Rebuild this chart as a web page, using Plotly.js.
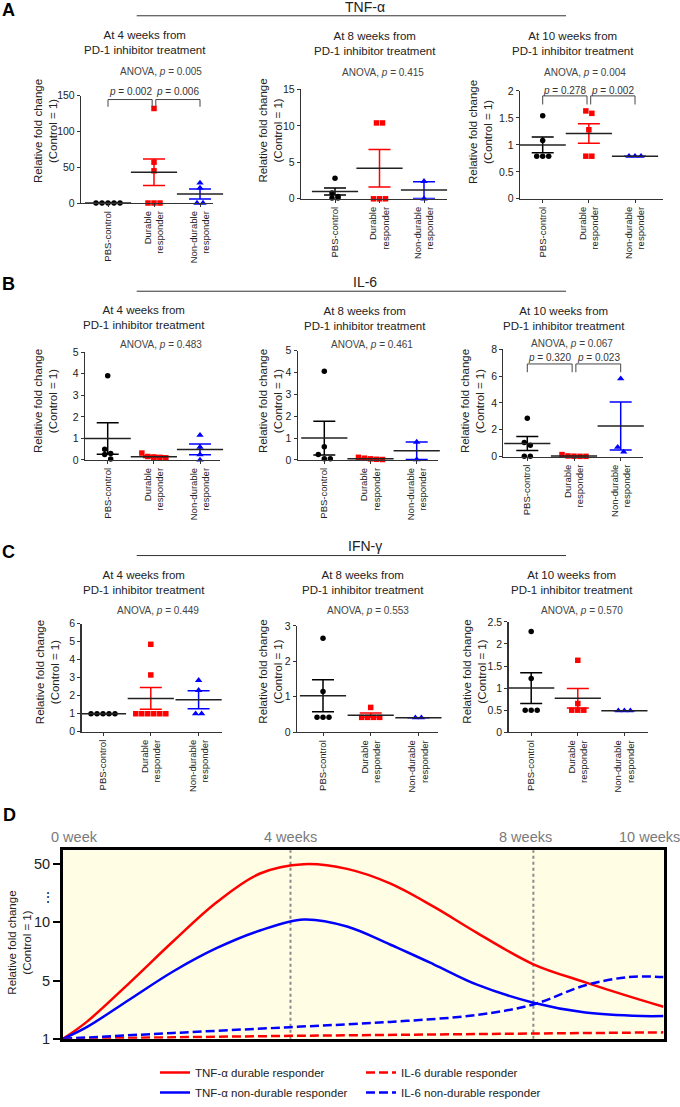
<!DOCTYPE html>
<html><head><meta charset="utf-8">
<script src="https://cdn.plot.ly/plotly-3.0.1.min.js"></script>
<style>html,body{margin:0;padding:0;background:#fff}#chart{width:680px;height:1107px}</style>
</head><body><div id="chart"></div>
<script>
// ---------------- DATA ----------------
const groupLabels = ['PBS-control', 'Durable<br>responder', 'Non-durable<br>responder'];
const cytokineNames = ['TNF-\u03b1', 'IL-6', 'IFN-\u03b3'];
const sectionLetters = ['A', 'B', 'C', 'D'];
const timeTitles = ['At 4 weeks from<br>PD-1 inhibitor treatment', 'At 8 weeks from<br>PD-1 inhibitor treatment', 'At 10 weeks from<br>PD-1 inhibitor treatment'];
const yTitleText = 'Relative fold change<br>(Control = 1)';

// TNF-alpha
const tnf4Pbs = [0, 0, 0, 0, 0];
const tnf4Dur = [132, 57, 45, 0, 0, 0];
const tnf4Non = [28, 21, 0, 0];
const tnf4Mean = [0, 43, 12.6];
const tnf4Sem = [0, 18.6, 7.0];
const tnf4Ticks = [0, 50, 100, 150];
const tnf4Anova = '0.005';
const tnf4Pairs = [[0, 1, '0.002'], [1, 2, '0.006']];

const tnf8Pbs = [2.8, 0.8, 0.3, 0.1, 0.1];
const tnf8Dur = [10.4, 10.4, 0, 0, 0];
const tnf8Non = [2.4, 0];
const tnf8Mean = [1.0, 4.2, 1.2];
const tnf8Sem = [0.48, 2.57, 1.15];
const tnf8Ticks = [0, 5, 10, 15];
const tnf8Anova = '0.415';
const tnf8Pairs = [];

const tnf10Pbs = [1.54, 1.08, 0.79, 0.79, 0.79];
const tnf10Dur = [1.63, 1.585, 1.28, 0.79, 0.79];
const tnf10Non = [0.79, 0.79, 0.79];
const tnf10Mean = [1.0, 1.21, 0.79];
const tnf10Sem = [0.145, 0.18, 0];
const tnf10Ticks = [0, 0.5, 1, 1.5, 2];
const tnf10Anova = '0.004';
const tnf10Pairs = [[0, 1, '0.278'], [1, 2, '0.002']];

// IL-6
const il64Pbs = [3.9, 0.5, 0.3, 0.25, 0.05];
const il64Dur = [0.32, 0.16, 0.14, 0.12, 0.1, 0.08];
const il64Non = [1.15, 0.6, 0.25, 0.0];
const il64Mean = [1.0, 0.15, 0.49];
const il64Sem = [0.73, 0.04, 0.25];
const il64Ticks = [0, 1, 2, 3, 4, 5];
const il64Anova = '0.483';
const il64Pairs = [];

const il68Pbs = [4.05, 0.6, 0.25, 0.05, 0.05];
const il68Dur = [0.12, 0.08, 0.05, 0.03, 0.02];
const il68Non = [0.82, 0.02];
const il68Mean = [1.0, 0.06, 0.42];
const il68Sem = [0.77, 0.02, 0.4];
const il68Ticks = [0, 1, 2, 3, 4, 5];
const il68Anova = '0.461';
const il68Pairs = [];

const il610Pbs = [2.85, 1.05, 0.85, 0.02, 0.02];
const il610Dur = [0.15, 0.05, 0.03, 0.02, 0.02];
const il610Non = [5.8, 0.7, 0.35];
const il610Mean = [0.98, 0.05, 2.28];
const il610Sem = [0.52, 0.02, 1.78];
const il610Ticks = [0, 2, 4, 6, 8];
const il610Anova = '0.067';
const il610Pairs = [[0, 1, '0.320'], [1, 2, '0.023']];

// IFN-gamma
const ifn4Pbs = [1, 1, 1, 1, 1];
const ifn4Dur = [4.85, 3.15, 1, 1, 1, 1, 1, 1];
const ifn4Non = [2.85, 2.3, 1.0, 1.0];
const ifn4Mean = [1.0, 1.85, 1.78];
const ifn4Sem = [0, 0.6, 0.5];
const ifn4Ticks = [0, 1, 2, 3, 4, 5, 6];
const ifn4Anova = '0.449';
const ifn4Pairs = [];

const ifn8Pbs = [2.65, 1.15, 0.42, 0.42, 0.42];
const ifn8Dur = [0.7, 0.42, 0.42, 0.42, 0.42];
const ifn8Non = [0.41, 0.41];
const ifn8Mean = [1.03, 0.48, 0.41];
const ifn8Sem = [0.45, 0.06, 0];
const ifn8Ticks = [0, 1, 2, 3];
const ifn8Anova = '0.553';
const ifn8Pairs = [];

const ifn10Pbs = [2.28, 1.22, 0.5, 0.5, 0.5];
const ifn10Dur = [1.63, 0.65, 0.5, 0.5, 0.5];
const ifn10Non = [0.49, 0.49, 0.49];
const ifn10Mean = [1.0, 0.77, 0.49];
const ifn10Sem = [0.35, 0.22, 0];
const ifn10Ticks = [0, 0.5, 1, 1.5, 2, 2.5];
const ifn10Anova = '0.570';
const ifn10Pairs = [];

// Panel D (schematic time course)
const weekLabels = ['0 week', '4 weeks', '8 weeks', '10 weeks'];
const weekMarks = [4, 8];
const foldTicks = [1, 5, 10, 50];
const foldTickLabels = ['1', '5', '10', '50'];
const seriesNames = ['TNF-\u03b1 durable responder', 'TNF-\u03b1 non-durable responder', 'IL-6 durable responder', 'IL-6 non-durable responder'];
const weeksTnfDur = [0.254, 0.644, 1.357, 2.073, 2.79, 3.498, 4.216, 4.931, 5.639, 6.357, 7.072, 8.0, 8.857, 9.51, 10.143];
const foldTnfDur  = [1, 2.16, 4.88, 8.4, 24, 43.6, 51.2, 46.8, 36.8, 20.8, 9.1, 6.4, 4.88, 4.0, 3.2];
const weeksTnfNon = [0.254, 0.644, 1.357, 2.073, 2.79, 3.498, 4.216, 4.931, 5.639, 6.357, 7.072, 8.0, 8.857, 9.786, 10.143];
const foldTnfNon  = [1, 1.8, 3.72, 5.8, 7.8, 9.3, 12, 9.65, 8.1, 6.4, 4.72, 3.48, 2.8, 2.56, 2.56];
const weeksIl6Dur = [0.254, 2.07, 4.0, 6.0, 8.0, 10.143];
const foldIl6Dur  = [1, 1.1, 1.2, 1.28, 1.36, 1.44];
const weeksIl6Non = [0.254, 2.073, 4.0, 5.64, 7.072, 8.0, 8.857, 9.572, 10.143];
const foldIl6Non  = [1, 1.4, 1.8, 2.16, 2.64, 3.36, 4.68, 5.3, 5.3];

// ---------------- LAYOUT CONSTANTS ----------------
const W = 680, H = 1107;
const px = x => x / W;
const py = y => 1 - y / H;
const FONT = 'Liberation Sans, Arial, Helvetica, sans-serif';

// [left, right, top, bottom, first category x, category spacing] in px
const boxes = [
  [81, 213, 97, 206, 108, 46],
  [301, 446.7, 90.7, 201.7, 335, 44.5],
  [520, 663, 92.3, 201.7, 542.7, 46.15],
  [85, 220, 357.3, 466.7, 107.7, 46.15],
  [297.7, 438.3, 355.7, 466.7, 324.3, 46.2],
  [503.3, 643.3, 354.3, 463.3, 527.3, 46.7],
  [81.5, 222, 632.7, 742.5, 103, 47.8],
  [297, 438, 635, 743, 323, 47.7],
  [508.5, 648.3, 631, 743, 531.2, 46.6]
];
const titlePos = [[145,43],[374.7,44.5],[573,44.5],[144,322.5],[365,323.3],[563.8,323.5],[143.7,590.8],[363.3,590.8],[572.3,590.8]];
const anovaPos = [[161,73],[382.5,74],[585,74],[161,349.3],[371.7,349.3],[572,349],[157.5,619.3],[367.5,619.3],[581.7,619.3]];
const yTitlePos = [[45,133],[270.5,133],[480,134],[45,407],[270,407],[472,407],[47,682],[270.5,682],[474.5,682]];
const bracketPx = {0: [101, 108.3, 93.3], 2: [97.3, 106, 91.7], 5: [369.3, 377.7, 362.3]};
const letterPos = [[8, 10], [8, 288], [8, 560], [9, 827]];
const headerY = [[16, 7.5], [295.5, 286], [563.7, 554]];
const weekLabelPx = [74, 290, 525, 649];

const panels = [
  [tnf4Pbs, tnf4Dur, tnf4Non, tnf4Mean, tnf4Sem, tnf4Ticks, tnf4Anova, tnf4Pairs],
  [tnf8Pbs, tnf8Dur, tnf8Non, tnf8Mean, tnf8Sem, tnf8Ticks, tnf8Anova, tnf8Pairs],
  [tnf10Pbs, tnf10Dur, tnf10Non, tnf10Mean, tnf10Sem, tnf10Ticks, tnf10Anova, tnf10Pairs],
  [il64Pbs, il64Dur, il64Non, il64Mean, il64Sem, il64Ticks, il64Anova, il64Pairs],
  [il68Pbs, il68Dur, il68Non, il68Mean, il68Sem, il68Ticks, il68Anova, il68Pairs],
  [il610Pbs, il610Dur, il610Non, il610Mean, il610Sem, il610Ticks, il610Anova, il610Pairs],
  [ifn4Pbs, ifn4Dur, ifn4Non, ifn4Mean, ifn4Sem, ifn4Ticks, ifn4Anova, ifn4Pairs],
  [ifn8Pbs, ifn8Dur, ifn8Non, ifn8Mean, ifn8Sem, ifn8Ticks, ifn8Anova, ifn8Pairs],
  [ifn10Pbs, ifn10Dur, ifn10Non, ifn10Mean, ifn10Sem, ifn10Ticks, ifn10Anova, ifn10Pairs]
];

const colors = ['#000000', '#ff0000', '#0000ff'];
const symbols = ['circle', 'square', 'triangle-up'];
const msizes = [5.5, 5.5, 6.5];

function swarm(vals, pxPerUnit, pxPerCat) {
  const idx = vals.map((v, i) => i).sort((a, b) => vals[b] - vals[a]);
  const off = new Array(vals.length).fill(0);
  let i = 0;
  while (i < idx.length) {
    let j = i; const base = vals[idx[i]];
    while (j + 1 < idx.length && (base - vals[idx[j + 1]]) * pxPerUnit < 5) j++;
    const n = j - i + 1;
    for (let k = 0; k < n; k++) off[idx[i + k]] = (k - (n - 1) / 2) * 6 / pxPerCat;
    i = j + 1;
  }
  return off;
}

function foldPos(v) {
  for (let i = 0; i < foldTicks.length - 1; i++) {
    if (v <= foldTicks[i + 1]) return i + (v - foldTicks[i]) / (foldTicks[i + 1] - foldTicks[i]);
  }
  return foldTicks.length - 1;
}

const traces = [];
const shapes = [];
const annotations = [];
const layout = {
  width: W, height: H, margin: {l: 0, r: 0, t: 0, b: 0},
  paper_bgcolor: '#fff', plot_bgcolor: 'rgba(0,0,0,0)',
  font: {family: FONT, color: '#222'},
  showlegend: true
};

panels.forEach((pd, p) => {
  const n = p + 1;
  const sfx = n === 1 ? '' : String(n);
  const xa = 'x' + sfx, ya = 'y' + sfx;
  const [L, R, T, B, x0, dx] = boxes[p];
  const ticks = pd[5];
  const ymax = ticks[ticks.length - 1];
  const pxPerUnit = (B - T) / ymax;
  for (let g = 0; g < 3; g++) {
    const vals = pd[g];
    const off = swarm(vals, pxPerUnit, dx);
    traces.push({type: 'scatter', mode: 'markers', x: vals.map((v, i) => g + off[i]), y: vals,
      xaxis: xa, yaxis: ya, cliponaxis: false, showlegend: false, hoverinfo: 'skip',
      marker: {symbol: symbols[g], size: msizes[g], color: colors[g], line: {width: 0}}});
  }
  for (let g = 0; g < 3; g++) {
    traces.push({type: 'scatter', mode: 'markers', x: [g], y: [pd[3][g]], xaxis: xa, yaxis: ya,
      cliponaxis: false, showlegend: false, hoverinfo: 'skip',
      marker: {symbol: 'line-ew', size: 33, color: '#222', line: {width: 1.5, color: '#222'}},
      error_y: {type: 'data', array: [pd[4][g]], visible: true, color: colors[g], thickness: 1.5, width: 11}});
  }
  layout['xaxis' + sfx] = {domain: [px(L), px(R)], range: [(L - x0) / dx, (R - x0) / dx], anchor: ya,
    tickvals: [0, 1, 2], ticktext: groupLabels, tickangle: -90, tickfont: {size: 9.5, color: '#222'},
    showline: true, linecolor: '#333', linewidth: 1.2, ticks: 'outside', ticklen: 3, tickcolor: '#333',
    showgrid: false, zeroline: false, fixedrange: true};
  layout['yaxis' + sfx] = {domain: [py(B), py(T)], range: [0, ymax], anchor: xa,
    tickvals: ticks, tickfont: {size: 10.5, color: '#222'},
    showline: true, linecolor: '#333', linewidth: 1.2, ticks: 'outside', ticklen: 3, tickcolor: '#333',
    showgrid: false, zeroline: false, fixedrange: true};

  annotations.push({xref: 'paper', yref: 'paper', x: px(titlePos[p][0]), y: py(titlePos[p][1]),
    text: timeTitles[p % 3], showarrow: false, xanchor: 'center', yanchor: 'middle',
    font: {size: 11.5, color: '#222'}});
  annotations.push({xref: 'paper', yref: 'paper', x: px(anovaPos[p][0]), y: py(anovaPos[p][1]),
    text: 'ANOVA, <i>p</i> = ' + pd[6], showarrow: false, xanchor: 'center', yanchor: 'middle',
    font: {size: 10, color: '#444'}});
  annotations.push({xref: 'paper', yref: 'paper', x: px(yTitlePos[p][0]), y: py(yTitlePos[p][1]),
    text: yTitleText, textangle: -90, showarrow: false, xanchor: 'center', yanchor: 'middle',
    font: {size: 11.5, color: '#222'}});

  pd[7].forEach(([i, j, pv]) => {
    const [yt, yd, ytx] = bracketPx[p];
    const gap = 0.04;
    const xi = i === 1 ? i + gap : i;
    const xj = j === 1 ? j - gap : j;
    shapes.push({type: 'path', xref: xa, yref: 'paper',
      path: `M ${xi},${py(yd)} L ${xi},${py(yt)} L ${xj},${py(yt)} L ${xj},${py(yd)}`,
      line: {color: '#444', width: 1}});
    annotations.push({xref: xa, yref: 'paper', x: (xi + xj) / 2, y: py(ytx), text: '<i>p</i> = ' + pv,
      showarrow: false, xanchor: 'center', yanchor: 'middle', font: {size: 10, color: '#333'}});
  });
});

// section letters and headers
sectionLetters.forEach((s, i) => {
  annotations.push({xref: 'paper', yref: 'paper', x: px(letterPos[i][0]), y: py(letterPos[i][1]),
    text: '<b>' + s + '</b>', showarrow: false, xanchor: 'center', yanchor: 'middle',
    font: {size: 18, color: '#000', family: 'Liberation Sans, Arial, sans-serif'}});
});
cytokineNames.forEach((c, i) => {
  shapes.push({type: 'line', xref: 'paper', yref: 'paper', x0: px(136.7), x1: px(566),
    y0: py(headerY[i][0]), y1: py(headerY[i][0]), line: {color: '#333', width: 1}});
  annotations.push({xref: 'paper', yref: 'paper', x: px(365), y: py(headerY[i][1]), text: c,
    showarrow: false, xanchor: 'center', yanchor: 'middle', font: {size: 14, color: '#222'}});
});

// ---------------- PANEL D ----------------
const dLine = [
  [weeksTnfDur, foldTnfDur, '#ff0000', 'solid', 'legend'],
  [weeksTnfNon, foldTnfNon, '#0000ff', 'solid', 'legend'],
  [weeksIl6Dur, foldIl6Dur, '#ff0000', '9px,4px', 'legend2'],
  [weeksIl6Non, foldIl6Non, '#0000ff', '9px,4px', 'legend2']
];
dLine.forEach((d, i) => {
  traces.push({type: 'scatter', mode: 'lines', x: d[0], y: d[1].map(foldPos), name: seriesNames[i],
    xaxis: 'x10', yaxis: 'y10', legend: d[4], legendgroup: 'g' + i, hoverinfo: 'skip',
    line: {color: d[2], width: 2.5, dash: d[3], shape: 'spline', smoothing: 1}});
});
layout.xaxis10 = {domain: [px(63), px(663.5)], range: [0.2536, 10.143], anchor: 'y10',
  showline: true, mirror: true, linewidth: 3, linecolor: '#000', showticklabels: false, ticks: '',
  showgrid: false, zeroline: false, fixedrange: true};
layout.yaxis10 = {domain: [py(1054), py(862.7)], range: [0, 3.24], anchor: 'x10',
  tickvals: foldTicks.map(foldPos), ticktext: foldTickLabels, ticks: 'outside', ticklen: 7, tickwidth: 2,
  tickcolor: '#000', showline: true, mirror: true, linewidth: 3, linecolor: '#000',
  showgrid: false, zeroline: false, tickfont: {size: 14.5, color: '#222'}, fixedrange: true};
shapes.unshift({type: 'rect', xref: 'x10 domain', yref: 'y10 domain', x0: 0, x1: 1, y0: 0, y1: 1,
  fillcolor: '#fffde4', line: {width: 0}, layer: 'below'});
weekMarks.forEach(w => {
  shapes.push({type: 'line', xref: 'x10', yref: 'y10 domain', x0: w, x1: w, y0: 0, y1: 1,
    line: {color: '#8a8a8a', width: 2, dash: 'dot'}, layer: 'below'});
});
weekLabels.forEach((t, i) => {
  annotations.push({xref: 'paper', yref: 'paper', x: px(weekLabelPx[i]), y: py(849.3), text: t,
    showarrow: false, xanchor: 'center', yanchor: 'middle', font: {size: 14.5, color: '#7a7a7a'}});
});
annotations.push({xref: 'paper', yref: 'paper', x: px(48), y: py(910), text: '\u22ee', showarrow: false,
  xanchor: 'center', yanchor: 'middle', font: {size: 14, color: '#222'}});
annotations.push({xref: 'paper', yref: 'paper', x: px(19.5), y: py(957), text: yTitleText, textangle: -90,
  showarrow: false, xanchor: 'center', yanchor: 'middle', font: {size: 11.5, color: '#222'}});

const legendBase = {xanchor: 'left', yanchor: 'top', orientation: 'v', font: {size: 11.5, color: '#222'},
  tracegroupgap: 1, bgcolor: 'rgba(0,0,0,0)', borderwidth: 0, itemwidth: 30};
layout.legend = Object.assign({x: px(155), y: py(1074)}, legendBase);
layout.legend2 = Object.assign({x: px(361), y: py(1074)}, legendBase);

layout.shapes = shapes;
layout.annotations = annotations;

Plotly.newPlot('chart', traces, layout, {displayModeBar: false, staticPlot: true});
</script>
</body></html>
